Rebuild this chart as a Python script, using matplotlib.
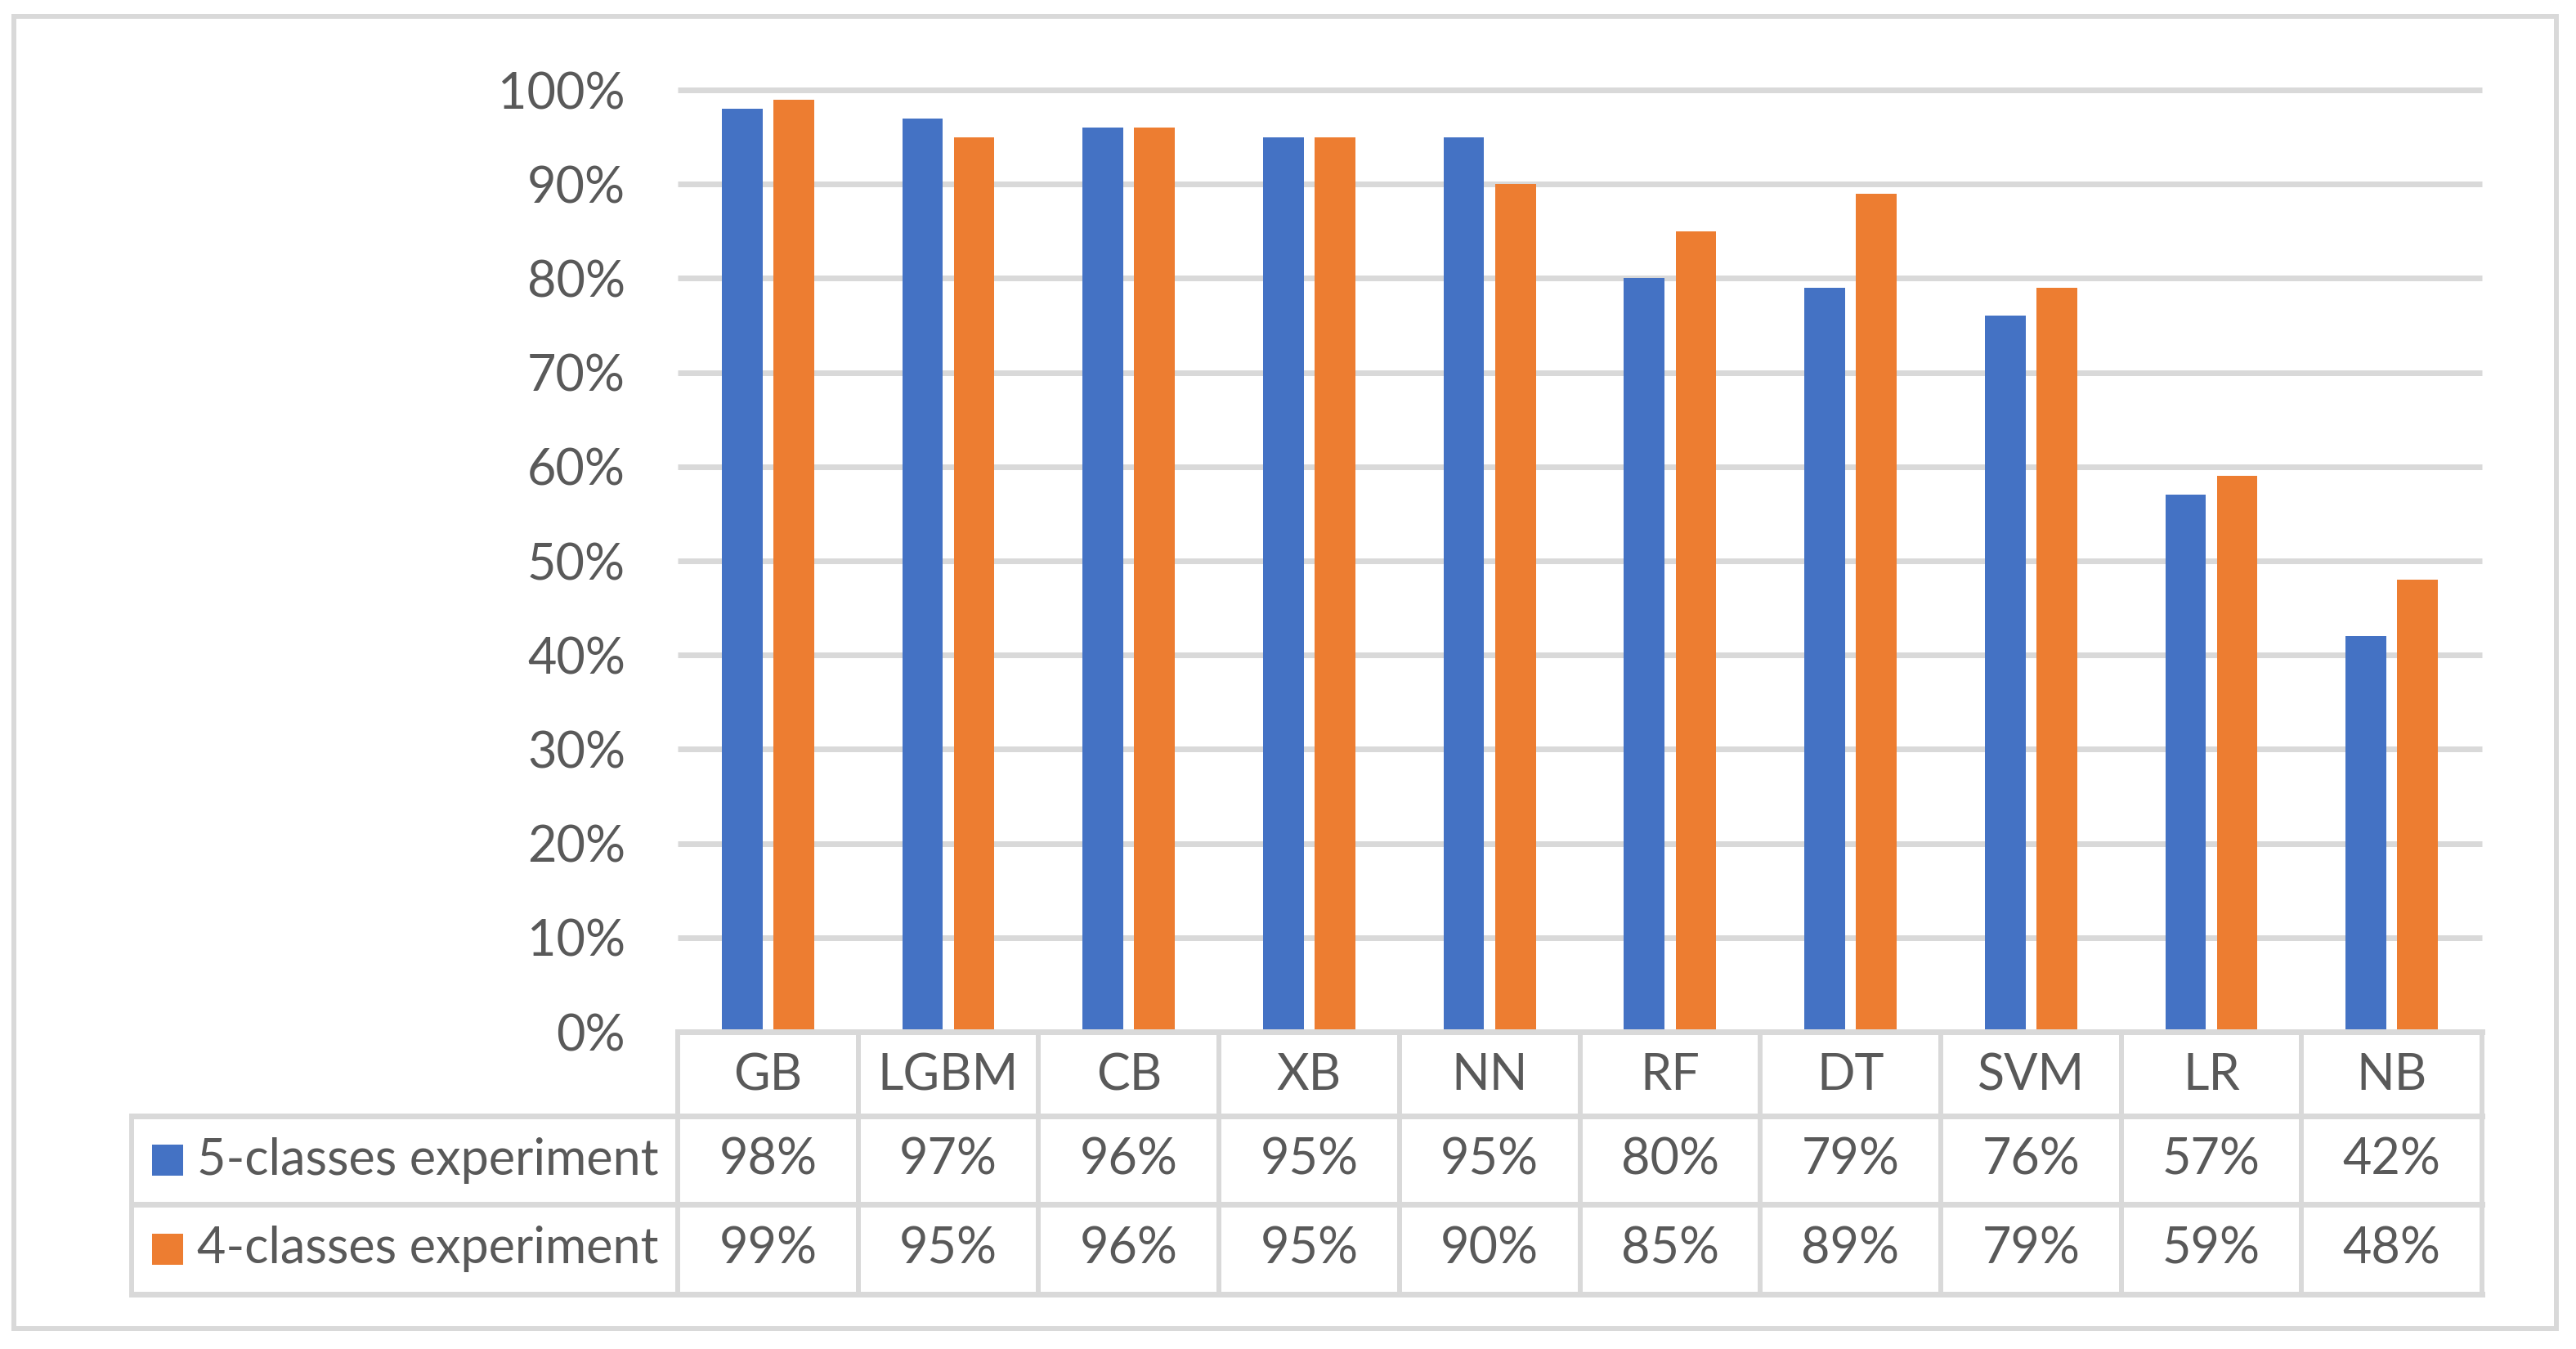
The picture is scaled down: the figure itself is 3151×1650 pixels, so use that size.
import matplotlib
matplotlib.use("Agg")
import matplotlib.pyplot as plt
from matplotlib.lines import Line2D
from matplotlib.patches import Rectangle
from matplotlib.transforms import blended_transform_factory
import numpy as np

categories = ["GB", "LGBM", "CB", "XB", "NN", "RF", "DT", "SVM", "LR", "NB"]
five_classes = [0.98, 0.97, 0.96, 0.95, 0.95, 0.80, 0.79, 0.76, 0.57, 0.42]
four_classes = [0.99, 0.95, 0.96, 0.95, 0.90, 0.85, 0.89, 0.79, 0.59, 0.48]
series_names = ["5-classes experiment", "4-classes experiment"]
yticks = [0.0, 0.1, 0.2, 0.3, 0.4, 0.5, 0.6, 0.7, 0.8, 0.9, 1.0]

BLUE = "#4472C4"
ORANGE = "#ED7D31"
GRID = "#D9D9D9"
TEXT = "#595959"
FONT = ["Lato", "DejaVu Sans"]
FS = 44

W, H = 3151, 1650
DPI = 100
plt.rcParams['font.family'] = FONT

fig = plt.figure(figsize=(W / DPI, H / DPI), dpi=DPI)
fig.patch.set_facecolor("white")

def fx(px):
    return px / W

def fy(py):
    return 1 - py / H

def lw(px):
    return px * 72 / DPI

ax_left, ax_right = 829, 3036
ax_top, ax_bottom = 110, 1262
ax = fig.add_axes([fx(ax_left), fy(ax_bottom), fx(ax_right) - fx(ax_left), fy(ax_top) - fy(ax_bottom)])
ax.set_xlim(-0.5, len(categories) - 0.5)
ax.set_ylim(0, 1.0)
for s in ax.spines.values():
    s.set_visible(False)
ax.set_facecolor("none")

x = np.arange(len(categories))
bw = 0.225
off = 0.143
ax.bar(x - off, five_classes, bw, color=BLUE, zorder=3, label=series_names[0])
ax.bar(x + off, four_classes, bw, color=ORANGE, zorder=3, label=series_names[1])

# gridlines
ax.hlines([t for t in yticks if t > 0], -0.5, len(categories) - 0.5, colors=GRID,
          linewidth=lw(7), zorder=1, clip_on=False)

ax.set_yticks(yticks)
ax.set_yticklabels([f"{int(round(t * 100))}%" for t in yticks])
ax.tick_params(axis="y", length=0, pad=lw(64), labelsize=FS, labelcolor=TEXT)
ax.set_xticks([])

# table
tr = blended_transform_factory(ax.transData, fig.transFigure)
ft = fig.transFigure
leg_left = 161
rows = [1262, 1365, 1473, 1583]
tlw = lw(6)

def add_line(xs, ys, transform, width=tlw):
    fig.add_artist(Line2D(xs, ys, transform=transform, color=GRID, linewidth=width,
                          solid_capstyle="projecting", zorder=5))

# horizontal line at axis (0%)
add_line([-0.5, len(categories) - 0.5], [fy(rows[0]), fy(rows[0])], tr, lw(7))
for r in rows[1:]:
    add_line([fx(leg_left), fx(ax_right)], [fy(r), fy(r)], ft, lw(7))
# vertical lines
for i in range(len(categories) + 1):
    xv = i - 0.5
    add_line([xv, xv], [fy(rows[0]), fy(rows[3])], tr)
add_line([fx(leg_left), fx(leg_left)], [fy(rows[1]), fy(rows[3])], ft)

# header labels
for i, c in enumerate(categories):
    ax.text(i, fy((rows[0] + rows[1]) / 2 + 2), c, transform=tr, ha="center", va="center",
            fontsize=FS, color=TEXT)
# values
for ri, vals in enumerate([five_classes, four_classes]):
    yc = fy((rows[ri + 1] + rows[ri + 2]) / 2)
    for i, v in enumerate(vals):
        ax.text(i, yc, f"{int(round(v * 100))}%", transform=tr, ha="center", va="center",
                fontsize=FS, color=TEXT)

# legend keys in table
for ri, (name, col) in enumerate(zip(series_names, [BLUE, ORANGE])):
    yc = (rows[ri + 1] + rows[ri + 2]) / 2
    fig.add_artist(Rectangle((fx(186), fy(yc + 19)), fx(38), 38 / H, transform=ft,
                             facecolor=col, edgecolor="none"))
    fig.text(fx(241), fy(yc), name, ha="left", va="center", fontsize=FS, color=TEXT)

# outer border
fig.add_artist(Rectangle((fx(17), fy(1625)), fx(3127) - fx(17), fy(20) - fy(1625),
                         transform=ft, facecolor="none", edgecolor=GRID, linewidth=lw(6)))

fig.savefig("out.png", dpi=DPI, facecolor="white")
